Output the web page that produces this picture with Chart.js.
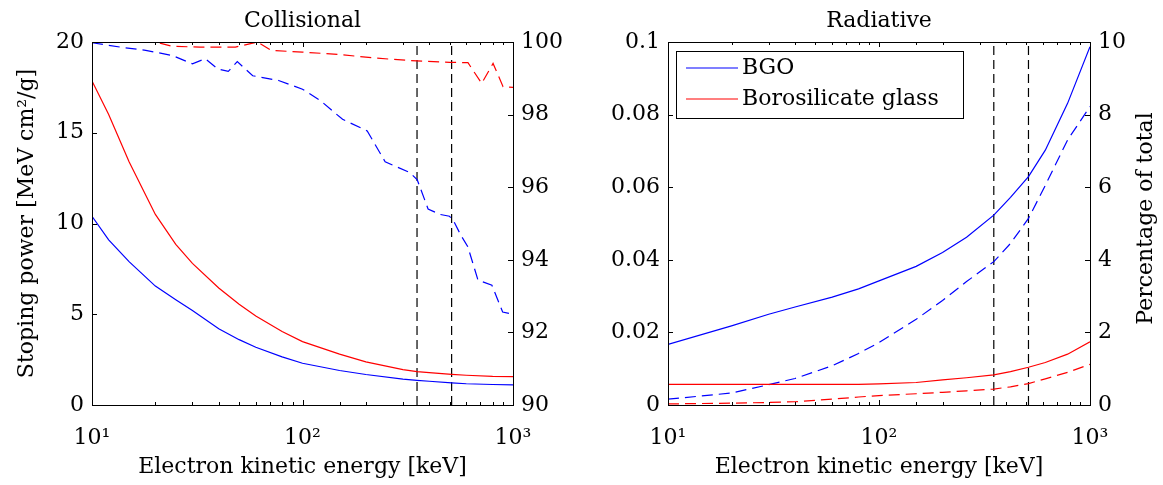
<!DOCTYPE html>
<html>
<head>
<meta charset="utf-8">
<script src="https://cdn.jsdelivr.net/npm/chart.js@4.4.1/dist/chart.umd.min.js"></script>
<style>
  html, body { margin: 0; padding: 0; background: #fff; }
  canvas { position: absolute; top: 0; }
  #collisional { left: 0; }
  #radiative { left: 580px; }
</style>
</head>
<body>
<canvas id="collisional" width="580" height="485"></canvas>
<canvas id="radiative" width="583" height="485"></canvas>
<script>
// ---- data (energies in keV) ----
const seriesNames = ['BGO', 'Borosilicate glass'];
const xTickValues = [10, 100, 1000];
const xTickLabels = ['10¹', '10²', '10³'];
const markerEnergies = [350, 511];

// collisional stopping power [MeV cm2/g]
const collEnergy = [10, 12, 15, 20, 25, 30, 40, 50, 60, 80, 100, 150, 200, 300, 350, 400, 511, 600, 800, 1000];
const collBgo = [10.4, 9.1, 7.9, 6.55, 5.8, 5.2, 4.2, 3.6, 3.18, 2.65, 2.3, 1.9, 1.68, 1.43, 1.36, 1.31, 1.22, 1.17, 1.13, 1.11];
const collGlass = [17.85, 16.0, 13.4, 10.5, 8.85, 7.8, 6.45, 5.55, 4.9, 4.05, 3.49, 2.8, 2.38, 1.95, 1.84, 1.78, 1.69, 1.64, 1.58, 1.56];

// collisional share of total [%]
const collPctBgoEnergy = [10, 14, 18, 24, 30, 34.5, 39.5, 44.4, 49, 58, 77, 100, 122, 155, 203, 247, 324, 351, 395, 450, 499, 519, 565, 610, 682, 794, 893, 1000];
const collPctBgo = [99.98, 99.85, 99.77, 99.63, 99.4, 99.54, 99.26, 99.19, 99.46, 99.07, 98.94, 98.7, 98.38, 97.87, 97.55, 96.7, 96.4, 96.2, 95.4, 95.25, 95.2, 95.1, 94.68, 94.36, 93.44, 93.3, 92.56, 92.5];
const collPctGlassEnergy = [10, 15, 20, 24, 32.5, 48, 61, 71, 100, 148, 218, 324, 499, 611, 710, 804, 897, 1000];
const collPctGlass = [100, 100, 100, 99.88, 99.86, 99.86, 100, 99.77, 99.72, 99.66, 99.56, 99.49, 99.44, 99.43, 98.86, 99.41, 98.77, 98.75];

// radiative stopping power [MeV cm2/g]
const radEnergy = [10, 20, 30, 40, 60, 80, 100, 150, 200, 260, 350, 420, 511, 614, 783, 1000];
const radBgo = [0.0167, 0.0218, 0.025, 0.027, 0.0297, 0.032, 0.0342, 0.0382, 0.042, 0.0462, 0.0523, 0.0572, 0.0629, 0.0702, 0.0831, 0.0987];
const radGlass = [0.0057, 0.0057, 0.0057, 0.0057, 0.0057, 0.0057, 0.0058, 0.0062, 0.0069, 0.0075, 0.0083, 0.0092, 0.0104, 0.0117, 0.014, 0.0174];

// radiative share of total [%]
const radPctBgo = [0.16, 0.33, 0.56, 0.73, 1.08, 1.42, 1.72, 2.36, 2.88, 3.4, 3.95, 4.45, 5.14, 6.05, 7.3, 8.22];
const radPctGlass = [0.03, 0.05, 0.07, 0.09, 0.16, 0.22, 0.26, 0.31, 0.35, 0.39, 0.44, 0.5, 0.59, 0.72, 0.9, 1.12];

const BLUE = 'rgb(0, 0, 255)';
const RED = 'rgb(255, 0, 0)';
const FONT = '"DejaVu Serif", serif';
const FONT_SIZE = 22;

Chart.defaults.font.family = FONT;
Chart.defaults.font.size = FONT_SIZE;
Chart.defaults.color = '#000';

function toPoints(xs, ys) {
    return xs.map((x, i) => ({ x: x, y: ys[i] }));
}

function curve(xs, ys, color, axis, dashed) {
    return {
        data: toPoints(xs, ys),
        borderColor: color,
        borderWidth: 1.2,
        borderDash: dashed ? [11, 6] : [],
        pointRadius: 0,
        yAxisID: axis,
        tension: 0
    };
}

function markerLines(yMin, yMax) {
    return markerEnergies.map(e => ({
        data: [{ x: e, y: yMin }, { x: e, y: yMax }],
        borderColor: '#000',
        borderWidth: 1.2,
        borderDash: [9, 5],
        pointRadius: 0,
        yAxisID: 'y'
    }));
}

// MATLAB-ish frame, inward ticks, titles and the boxed legend
const matlabLook = {
    id: 'matlabLook',
    afterDraw(chart, args, opts) {
        const ctx = chart.ctx;
        const a = chart.chartArea;
        const xs = chart.scales.x;
        ctx.save();
        ctx.strokeStyle = '#000';
        ctx.lineWidth = 1;
        ctx.beginPath();
        xs.ticks.forEach(t => {
            const px = Math.round(xs.getPixelForValue(t.value)) + 0.5;
            const len = xTickValues.includes(t.value) ? 5 : 3;
            ctx.moveTo(px, a.bottom); ctx.lineTo(px, a.bottom - len);
            ctx.moveTo(px, a.top); ctx.lineTo(px, a.top + len);
        });
        chart.scales.y.ticks.forEach(t => {
            const py = Math.round(chart.scales.y.getPixelForValue(t.value)) + 0.5;
            ctx.moveTo(a.left, py); ctx.lineTo(a.left + 5, py);
        });
        chart.scales.y2.ticks.forEach(t => {
            const py = Math.round(chart.scales.y2.getPixelForValue(t.value)) + 0.5;
            ctx.moveTo(a.right, py); ctx.lineTo(a.right - 5, py);
        });
        ctx.stroke();
        ctx.strokeRect(Math.round(a.left) + 0.5, Math.round(a.top) + 0.5,
            Math.round(a.right - a.left), Math.round(a.bottom - a.top));

        ctx.fillStyle = '#000';
        ctx.font = FONT_SIZE + 'px ' + FONT;
        ctx.textAlign = 'center';
        ctx.textBaseline = 'middle';
        const cx = (a.left + a.right) / 2;
        const cy = (a.top + a.bottom) / 2;
        ctx.fillText(opts.title, cx, 21);
        ctx.fillText('Electron kinetic energy [keV]', cx, 467);
        if (opts.leftTitle) {
            ctx.save();
            ctx.translate(27, cy);
            ctx.rotate(-Math.PI / 2);
            ctx.fillText(opts.leftTitle, 0, 0);
            ctx.restore();
        }
        if (opts.rightTitle) {
            ctx.save();
            ctx.translate(a.right + 56, cy - 5);
            ctx.rotate(-Math.PI / 2);
            ctx.fillText(opts.rightTitle, 0, 0);
            ctx.restore();
        }
        if (opts.legend) {
            const bx = a.left + 8, by = a.top + 9;
            ctx.fillStyle = '#fff';
            ctx.fillRect(bx, by, 287, 67);
            ctx.strokeRect(bx + 0.5, by + 0.5, 287, 67);
            [BLUE, RED].forEach((c, i) => {
                const ly = by + 17 + i * 31;
                ctx.strokeStyle = c;
                ctx.lineWidth = 1.2;
                ctx.beginPath();
                ctx.moveTo(bx + 10, ly); ctx.lineTo(bx + 62, ly);
                ctx.stroke();
                ctx.fillStyle = '#000';
                ctx.textAlign = 'left';
                ctx.fillText(seriesNames[i], bx + 66, ly);
            });
        }
        ctx.restore();
    }
};

function buildOptions(cfg) {
    return {
        responsive: false,
        animation: false,
        layout: { padding: { top: 42, left: 0, right: 0, bottom: 0 } },
        plugins: {
            legend: { display: false },
            tooltip: { enabled: false },
            matlabLook: cfg.look
        },
        scales: {
            x: {
                type: 'logarithmic',
                min: 10,
                max: 1000,
                grid: { display: false },
                border: { display: false },
                afterFit: s => { s.height = 80; },
                ticks: {
                    autoSkip: false,
                    maxRotation: 0,
                    padding: 12,
                    callback: v => {
                        const i = xTickValues.indexOf(v);
                        return i >= 0 ? xTickLabels[i] : '';
                    }
                }
            },
            y: {
                position: 'left',
                min: cfg.yMin,
                max: cfg.yMax,
                grid: { display: false, drawTicks: false },
                border: { display: false },
                afterFit: s => { s.width = cfg.leftWidth; },
                ticks: {
                    stepSize: cfg.yStep,
                    padding: 8,
                    callback: v => String(Number(v.toFixed(3)))
                }
            },
            y2: {
                position: 'right',
                min: cfg.y2Min,
                max: cfg.y2Max,
                grid: { display: false, drawTicks: false },
                border: { display: false },
                afterFit: s => { s.width = cfg.rightWidth; },
                ticks: {
                    stepSize: cfg.y2Step,
                    padding: 8,
                    callback: v => String(Number(v.toFixed(3)))
                }
            }
        }
    };
}

new Chart(document.getElementById('collisional'), {
    type: 'line',
    data: {
        datasets: [
            curve(collEnergy, collBgo, BLUE, 'y', false),
            curve(collEnergy, collGlass, RED, 'y', false),
            curve(collPctBgoEnergy, collPctBgo, BLUE, 'y2', true),
            curve(collPctGlassEnergy, collPctGlass, RED, 'y2', true),
            ...markerLines(0, 20)
        ]
    },
    options: buildOptions({
        yMin: 0, yMax: 20, yStep: 5,
        y2Min: 90, y2Max: 100, y2Step: 2,
        leftWidth: 92, rightWidth: 67,
        look: { title: 'Collisional', leftTitle: 'Stoping power [MeV cm²/g]', legend: false }
    }),
    plugins: [matlabLook]
});

new Chart(document.getElementById('radiative'), {
    type: 'line',
    data: {
        datasets: [
            curve(radEnergy, radBgo, BLUE, 'y', false),
            curve(radEnergy, radGlass, RED, 'y', false),
            curve(radEnergy, radPctBgo, BLUE, 'y2', true),
            curve(radEnergy, radPctGlass, RED, 'y2', true),
            ...markerLines(0, 0.1)
        ]
    },
    options: buildOptions({
        yMin: 0, yMax: 0.1, yStep: 0.02,
        y2Min: 0, y2Max: 10, y2Step: 2,
        leftWidth: 88, rightWidth: 73,
        look: { title: 'Radiative', rightTitle: 'Percentage of total', legend: true }
    }),
    plugins: [matlabLook]
});
</script>
</body>
</html>
